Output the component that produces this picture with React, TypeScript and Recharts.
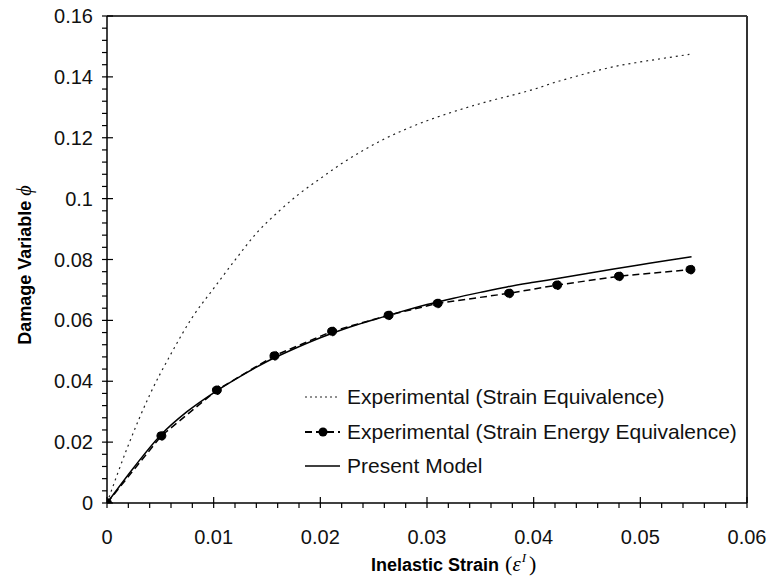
import React from 'react';
import { LineChart, Line, XAxis, YAxis, Legend, ReferenceLine, Label } from 'recharts';

// Experimental (Strain Equivalence) - dotted curve
const seStrain = [0, 0.002, 0.004, 0.006, 0.008, 0.01, 0.012, 0.014, 0.016, 0.018, 0.02, 0.022, 0.024, 0.026, 0.028, 0.03, 0.032, 0.034, 0.036, 0.038, 0.04, 0.042, 0.044, 0.046, 0.048, 0.05, 0.052, 0.0546];
const seDamage = [0, 0.019, 0.0355, 0.049, 0.061, 0.0705, 0.0798, 0.0886, 0.0955, 0.1015, 0.1066, 0.1115, 0.1158, 0.1196, 0.1228, 0.1256, 0.128, 0.1302, 0.1322, 0.134, 0.1359, 0.1382, 0.1402, 0.1421, 0.1437, 0.1449, 0.146, 0.1474];

// Experimental (Strain Energy Equivalence) - dashed with markers
const seeStrain = [0, 0.0051, 0.0103, 0.0157, 0.0211, 0.0264, 0.031, 0.0377, 0.0422, 0.048, 0.0547];
const seeDamage = [0, 0.0221, 0.0371, 0.0484, 0.0564, 0.0617, 0.0656, 0.0689, 0.0716, 0.0745, 0.0767];

// Present Model - solid
const modelStrain = [0, 0.0025, 0.005, 0.0075, 0.01, 0.0125, 0.015, 0.0175, 0.02, 0.0225, 0.025, 0.0275, 0.03, 0.0325, 0.035, 0.0375, 0.04, 0.0425, 0.045, 0.0475, 0.05, 0.0525, 0.0548];
const modelDamage = [0, 0.0116, 0.0222, 0.03, 0.0362, 0.0416, 0.0465, 0.0506, 0.0543, 0.0575, 0.0602, 0.0628, 0.0652, 0.0673, 0.0692, 0.071, 0.0725, 0.0739, 0.0754, 0.0769, 0.0783, 0.0797, 0.0809];

const xMajor = [0, 0.01, 0.02, 0.03, 0.04, 0.05, 0.06];
const xLabels = ['0', '0.01', '0.02', '0.03', '0.04', '0.05', '0.06'];
const yMajor = [0, 0.02, 0.04, 0.06, 0.08, 0.1, 0.12, 0.14, 0.16];
const yLabels = ['0', '0.02', '0.04', '0.06', '0.08', '0.1', '0.12', '0.14', '0.16'];

const seriesNames = [
  'Experimental (Strain Equivalence)',
  'Experimental (Strain Energy Equivalence)',
  'Present Model',
];

const zip = (xs: number[], ys: number[]) => xs.map((x, i) => ({ x, y: ys[i] }));

// minor ticks: 5 per major step
const minorTicks = (major: number[]) => {
  const out: number[] = [];
  for (let i = 0; i < major.length - 1; i++) {
    const step = (major[i + 1] - major[i]) / 5;
    for (let k = 0; k < 5; k++) out.push(major[i] + step * k);
  }
  out.push(major[major.length - 1]);
  return out;
};
const xTicks = minorTicks(xMajor);
const yTicks = minorTicks(yMajor);

const SANS = '"Liberation Sans", Arial, sans-serif';
const SERIF = '"Liberation Serif", "Times New Roman", serif';

const XTick = (props: any) => {
  const { x, y, index } = props;
  const isMajor = index % 5 === 0;
  return (
    <g>
      <line x1={x} x2={x} y1={isMajor ? y - 6 : y} y2={y + 5} stroke="#000" strokeWidth={1.2} />
      {isMajor && (
        <text x={x} y={y + 34} dy="0.35em" textAnchor="middle" fontFamily={SANS} fontSize={20} fill="#111">
          {xLabels[index / 5]}
        </text>
      )}
    </g>
  );
};

const YTick = (props: any) => {
  const { x, y, index } = props;
  const isMajor = index % 5 === 0;
  return (
    <g>
      <line x1={x - 5} x2={isMajor ? x + 6 : x} y1={y} y2={y} stroke="#000" strokeWidth={1.2} />
      {isMajor && (
        <text x={x - 14} y={y} dy="0.35em" textAnchor="end" fontFamily={SANS} fontSize={20} fill="#111">
          {yLabels[index / 5]}
        </text>
      )}
    </g>
  );
};

const XTitle = (props: any) => {
  const { viewBox } = props;
  return (
    <text x={viewBox.x + 264} y={viewBox.y + 68} fontFamily={SANS} fontWeight="bold" fontSize={18} fill="#000">
      Inelastic Strain
      <tspan dx={6} fontFamily={SERIF} fontWeight="normal" fontSize={22}>(</tspan>
      <tspan fontFamily={SERIF} fontWeight="normal" fontStyle="italic" fontSize={21}>ε</tspan>
      <tspan dx={1} dy={-9} fontFamily={SERIF} fontWeight="normal" fontStyle="italic" fontSize={13}>I</tspan>
      <tspan dx={3} dy={9} fontFamily={SERIF} fontWeight="normal" fontSize={22}>)</tspan>
    </text>
  );
};

const YTitle = (props: any) => {
  const { viewBox } = props;
  const cx = 25;
  const cy = viewBox.y + 249;
  return (
    <text x={cx} y={cy} transform={`rotate(-90 ${cx} ${cy})`} textAnchor="middle" dy="0.35em"
      fontFamily={SANS} fontWeight="bold" fontSize={18} fill="#000">
      Damage Variable{' '}
      <tspan fontFamily={SERIF} fontWeight="normal" fontStyle="italic" fontSize={20}>ϕ</tspan>
    </text>
  );
};

const LegendSample = ({ idx }: { idx: number }) => (
  <svg width={36} height={12} style={{ marginRight: 6, overflow: 'visible' }}>
    {idx === 0 && <line x1={0} x2={35} y1={6} y2={6} stroke="#222" strokeWidth={1.2} strokeDasharray="2 3" />}
    {idx === 1 && (
      <>
        <line x1={0} x2={35} y1={6} y2={6} stroke="#000" strokeWidth={2} strokeDasharray="7 4" />
        <circle cx={18} cy={6} r={4.5} fill="#000" />
      </>
    )}
    {idx === 2 && <line x1={0} x2={35} y1={6} y2={6} stroke="#000" strokeWidth={1.4} />}
  </svg>
);

const renderLegend = () => (
  <div style={{ fontFamily: SANS, fontSize: 21, color: '#111' }}>
    {seriesNames.map((name, i) => (
      <div key={name} style={{ display: 'flex', alignItems: 'center', height: 34.5, whiteSpace: 'nowrap' }}>
        <LegendSample idx={i} />
        <span>{name}</span>
      </div>
    ))}
  </div>
);

const App: React.FC = () => {
  return (
    <div style={{ position: 'absolute', left: 0, top: 0, background: '#fff' }}>
      <LineChart width={769} height={583} margin={{ top: 16, right: 22, bottom: 0, left: 0 }}>
        <XAxis
          type="number"
          dataKey="x"
          domain={[0, 0.06]}
          ticks={xTicks}
          interval={0}
          height={80}
          tickSize={0}
          tickMargin={0}
          tickLine={false}
          tick={XTick}
          axisLine={{ stroke: '#000', strokeWidth: 1.5 }}
          allowDataOverflow
        >
          <Label content={XTitle} />
        </XAxis>
        <YAxis
          type="number"
          dataKey="y"
          domain={[0, 0.16]}
          ticks={yTicks}
          interval={0}
          width={107}
          tickSize={0}
          tickMargin={0}
          tickLine={false}
          tick={YTick}
          axisLine={{ stroke: '#000', strokeWidth: 1.5 }}
          allowDataOverflow
        >
          <Label content={YTitle} />
        </YAxis>
        <ReferenceLine y={0.16} stroke="#000" strokeWidth={1.5} />
        <ReferenceLine x={0.06} stroke="#333" strokeWidth={2} />
        <Legend
          layout="vertical"
          align="center"
          verticalAlign="middle"
          content={renderLegend}
          wrapperStyle={{ position: 'absolute', left: 305, top: 380, width: 460, height: 110 }}
        />
        <Line
          data={zip(seStrain, seDamage)}
          dataKey="y"
          name={seriesNames[0]}
          type="monotone"
          stroke="#222"
          strokeWidth={1.2}
          strokeDasharray="2 4"
          dot={false}
          isAnimationActive={false}
        />
        <Line
          data={zip(modelStrain, modelDamage)}
          dataKey="y"
          name={seriesNames[2]}
          type="monotone"
          stroke="#000"
          strokeWidth={1.5}
          dot={false}
          isAnimationActive={false}
        />
        <Line
          data={zip(seeStrain, seeDamage)}
          dataKey="y"
          name={seriesNames[1]}
          type="linear"
          stroke="#000"
          strokeWidth={1.5}
          strokeDasharray="7 4"
          dot={{ r: 4.5, fill: '#000', stroke: '#000', strokeWidth: 1 }}
          isAnimationActive={false}
        />
      </LineChart>
    </div>
  );
};

export default App;
